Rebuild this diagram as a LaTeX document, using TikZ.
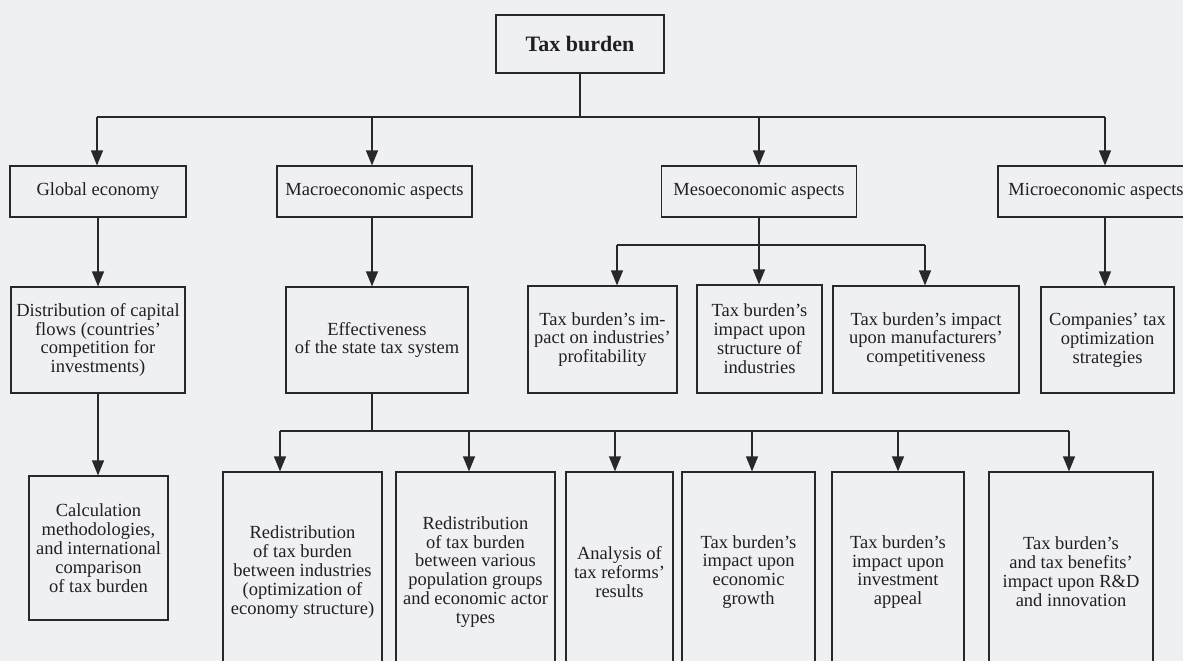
\documentclass[tikz,border=0pt]{standalone}
\usepackage{fontspec}
\setmainfont{Liberation Serif}
\usetikzlibrary{arrows.meta}
\definecolor{bgc}{RGB}{239,240,244}
\definecolor{linec}{RGB}{40,40,40}
\definecolor{textc}{RGB}{35,31,32}
\tikzset{
  box/.style={draw=linec, line width=1.2pt, inner sep=0pt, align=center,
    font=\fontsize{18.5}{18.9}\selectfont, text=textc, fill=bgc},
  ln/.style={draw=linec, line width=1.2pt},
  arr/.style={draw=linec, line width=1.2pt, -{Triangle[length=15pt,width=12pt]}},
}
\begin{document}
\begin{tikzpicture}[x=1pt,y=-1pt]
\useasboundingbox (0,0) rectangle (1183,661);
\fill[bgc] (0,0) rectangle (1183,661);
\clip (0,0) rectangle (1183,661);

% nodes
\node[box, minimum width=168, minimum height=58, font=\fontsize{22}{24}\selectfont\bfseries] (tax) at (580,44) {Tax burden};

\node[box, minimum width=176, minimum height=51] (global) at (98,191.5) {Global economy};
\node[box, minimum width=195, minimum height=51] (macro) at (374.5,191.5) {Macroeconomic aspects};
\node[box, minimum width=195, minimum height=51] (meso) at (759,191.5) {Mesoeconomic aspects};
\node[box, minimum width=196, minimum height=51] (micro) at (1096,191.5) {Microeconomic aspects};

\node[box, minimum width=174, minimum height=106] (dist) at (98,340) {Distribution of capital\\flows (countries’\\competition for\\investments)};
\node[box, minimum width=182, minimum height=106] (eff) at (377,340) {Effectiveness\\of the state tax system};
\node[box, minimum width=149, minimum height=107] (prof) at (602.5,339.5) {Tax burden’s im-\\pact on industries’\\profitability};
\node[box, minimum width=125, minimum height=108] (struct) at (759.5,339) {Tax burden’s\\impact upon\\structure of\\industries};
\node[box, minimum width=186, minimum height=107] (manuf) at (926,339.5) {Tax burden’s impact\\upon manufacturers’\\competitiveness};
\node[box, minimum width=133, minimum height=106] (comp) at (1107.5,340) {Companies’ tax\\optimization\\strategies};

\node[box, minimum width=139, minimum height=144] (calc) at (98.5,548) {Calculation\\methodologies,\\and international\\comparison\\of tax burden};

\node[box, minimum width=159, minimum height=200] (r1) at (302.5,572) {Redistribution\\of tax burden\\between industries\\(optimization of\\economy structure)};
\node[box, minimum width=159, minimum height=200] (r2) at (475.5,572) {Redistribution\\of tax burden\\between various\\population groups\\and economic actor\\types};
\node[box, minimum width=107, minimum height=200] (r3) at (619.5,572) {Analysis of\\tax reforms’\\results};
\node[box, minimum width=133, minimum height=200] (r4) at (748.5,572) {Tax burden’s\\impact upon\\economic\\growth};
\node[box, minimum width=132, minimum height=200] (r5) at (898,572) {Tax burden’s\\impact upon\\investment\\appeal};
\node[box, minimum width=164, minimum height=200] (r6) at (1071,572) {Tax burden’s\\and tax benefits’\\impact upon R\&D\\and innovation};

% level 1 bus
\coordinate (b0) at (580,117);
\coordinate (b0L) at (97,117);
\coordinate (b0M) at (372,117);
\coordinate (b0S) at (759,117);
\coordinate (b0R) at (1105,117);
\draw[ln] (tax.south) -- (b0);
\draw[ln] (b0L) -- (b0R);
\draw[arr] (b0L) -- (b0L |- global.north);
\draw[arr] (b0M) -- (b0M |- macro.north);
\draw[arr] (b0S) -- (b0S |- meso.north);
\draw[arr] (b0R) -- (b0R |- micro.north);

% level 2
\draw[arr] (global.south) -- (global.south |- dist.north);
\draw[arr] (macro.south -| b0M) -- (b0M |- eff.north);
\draw[arr] (micro.south -| b0R) -- (b0R |- comp.north);

\coordinate (b1L) at (617,245);
\coordinate (b1R) at (925,245);
\draw[ln] (b1L) -- (b1R);
\draw[arr] (meso.south) -- (meso.south |- struct.north);
\draw[arr] (b1L) -- (b1L |- prof.north);
\draw[arr] (b1R) -- (b1R |- manuf.north);

% level 3
\draw[arr] (dist.south) -- (dist.south |- calc.north);

\coordinate (e0) at (372,431);
\coordinate (e1) at (280,431);
\coordinate (e2) at (469,431);
\coordinate (e3) at (615,431);
\coordinate (e4) at (752,431);
\coordinate (e5) at (898,431);
\coordinate (e6) at (1069,431);
\draw[ln] (eff.south -| e0) -- (e0);
\draw[ln] (e1) -- (e6);
\draw[arr] (e1) -- (e1 |- r1.north);
\draw[arr] (e2) -- (e2 |- r2.north);
\draw[arr] (e3) -- (e3 |- r3.north);
\draw[arr] (e4) -- (e4 |- r4.north);
\draw[arr] (e5) -- (e5 |- r5.north);
\draw[arr] (e6) -- (e6 |- r6.north);
\end{tikzpicture}
\end{document}
